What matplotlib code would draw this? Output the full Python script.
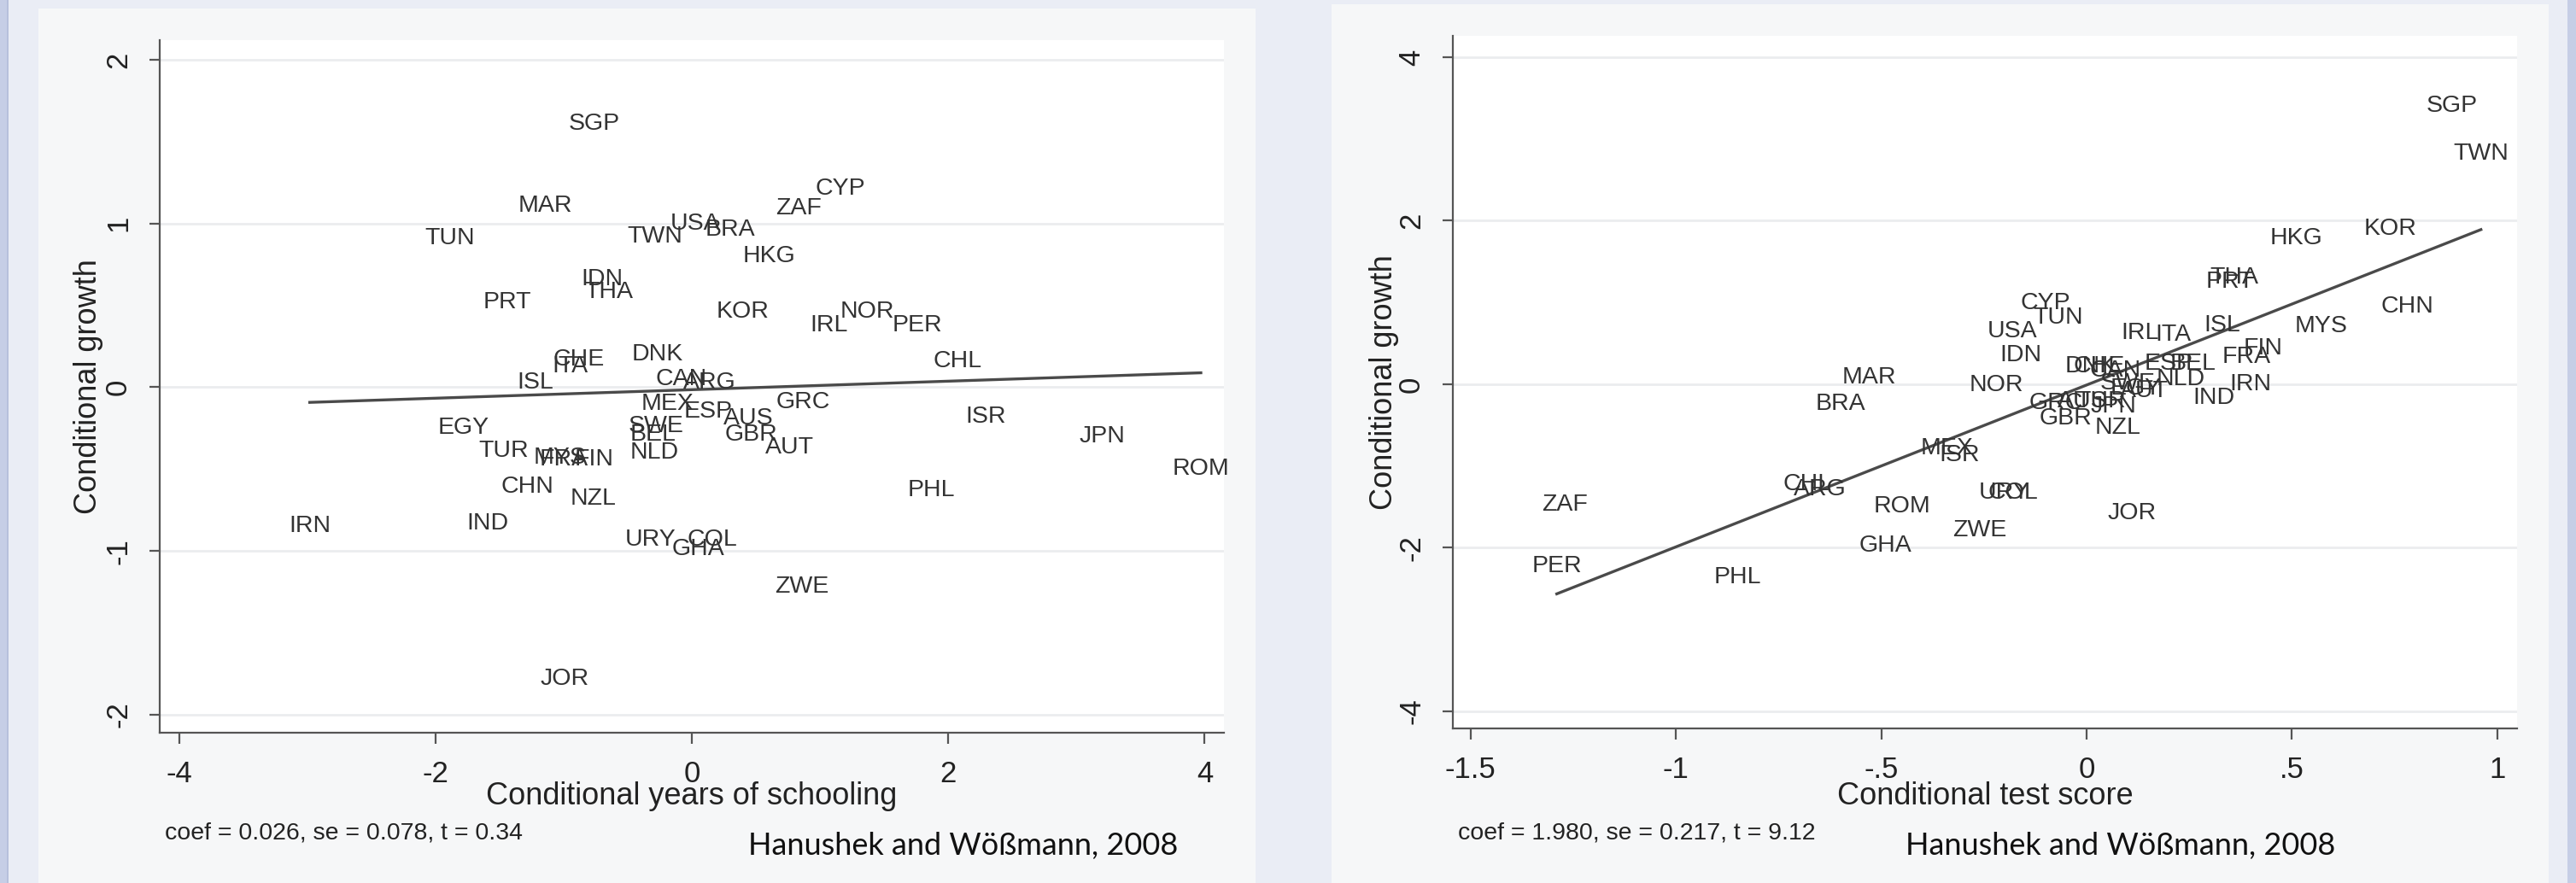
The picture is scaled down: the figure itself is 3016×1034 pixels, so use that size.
import matplotlib
matplotlib.use("Agg")
import matplotlib.pyplot as plt
from matplotlib.patches import Rectangle
import numpy as np

plt.rcParams['font.family'] = ['Liberation Sans', 'DejaVu Sans']

# ---------------- data: left panel (years of schooling) ----------------
left_countries = ["SGP", "MAR", "TUN", "TWN", "USA", "BRA", "ZAF", "CYP", "HKG", "IDN",
                  "THA", "PRT", "KOR", "IRL", "NOR", "PER", "CHL", "DNK", "CHE", "ITA",
                  "ISL", "CAN", "ARG", "MEX", "ESP", "AUS", "GRC", "SWE", "BEL", "NLD",
                  "GBR", "AUT", "ISR", "JPN", "ROM", "EGY", "TUR", "MYS", "FRA", "FIN",
                  "CHN", "NZL", "IND", "IRN", "PHL", "URY", "COL", "GHA", "ZWE", "JOR"]
left_x = [-0.76, -1.14, -1.89, -0.29, 0.03, 0.30, 0.83, 1.16, 0.60, -0.70,
          -0.65, -1.44, 0.40, 1.07, 1.37, 1.76, 2.07, -0.27, -0.88, -0.95,
          -1.22, -0.08, 0.14, -0.19, 0.13, 0.44, 0.87, -0.28, -0.30, -0.29,
          0.46, 0.76, 2.29, 3.20, 3.97, -1.78, -1.47, -1.03, -1.00, -0.76,
          -1.28, -0.77, -1.59, -2.98, 1.87, -0.32, 0.16, 0.05, 0.86, -0.99]
left_y = [1.61, 1.11, 0.91, 0.92, 1.00, 0.96, 1.09, 1.21, 0.80, 0.66,
          0.58, 0.52, 0.46, 0.38, 0.46, 0.38, 0.16, 0.20, 0.17, 0.13,
          0.03, 0.05, 0.03, -0.10, -0.15, -0.19, -0.09, -0.24, -0.29, -0.40,
          -0.29, -0.37, -0.18, -0.30, -0.50, -0.25, -0.39, -0.43, -0.44, -0.44,
          -0.61, -0.68, -0.83, -0.85, -0.63, -0.93, -0.93, -0.99, -1.22, -1.78]
left_fit = [0.026, -0.015]          # slope, intercept
left_xticks = [-4, -2, 0, 2, 4]
left_xticklabels = ["-4", "-2", "0", "2", "4"]
left_yticks = [-2, -1, 0, 1, 2]
left_yticklabels = ["-2", "-1", "0", "1", "2"]
left_note = "coef = 0.026, se = 0.078, t = 0.34"

# ---------------- data: right panel (test score) ----------------
right_countries = ["SGP", "TWN", "HKG", "KOR", "THA", "PRT", "CHN", "MYS", "CYP", "TUN",
                   "USA", "IDN", "IRL", "ITA", "ISL", "FIN", "FRA", "IRN", "IND", "MAR",
                   "BRA", "NOR", "DNK", "CHE", "ESP", "BEL", "NLD", "SWE", "AUT", "EGY",
                   "GRC", "AUS", "TUR", "JPN", "GBR", "NZL", "MEX", "ISR", "CHL", "ARG",
                   "ROM", "GHA", "URY", "COL", "ZWE", "JOR", "ZAF", "PER", "PHL", "CAN"]
right_x = [0.89, 0.96, 0.51, 0.74, 0.36, 0.35, 0.78, 0.57, -0.10, -0.07,
           -0.18, -0.16, 0.13, 0.21, 0.33, 0.43, 0.39, 0.40, 0.31, -0.53,
           -0.60, -0.22, 0.01, 0.03, 0.20, 0.26, 0.23, 0.10, 0.14, 0.12,
           -0.075, -0.01, 0.035, 0.065, -0.05, 0.075, -0.34, -0.31, -0.68, -0.65,
           -0.45, -0.49, -0.20, -0.18, -0.26, 0.11, -1.27, -1.29, -0.85, 0.07]
right_y = [3.40, 2.82, 1.78, 1.90, 1.30, 1.25, 0.95, 0.71, 0.99, 0.81,
           0.65, 0.35, 0.63, 0.60, 0.72, 0.44, 0.33, 0.00, -0.17, 0.08,
           -0.24, -0.01, 0.22, 0.22, 0.25, 0.25, 0.06, 0.01, -0.08, -0.05,
           -0.23, -0.21, -0.21, -0.27, -0.42, -0.53, -0.78, -0.87, -1.22, -1.29,
           -1.49, -1.98, -1.33, -1.33, -1.79, -1.58, -1.47, -2.23, -2.36, 0.17]
right_fit = [1.980, -0.01]
right_xticks = [-1.5, -1.0, -0.5, 0.0, 0.5, 1.0]
right_xticklabels = ["-1.5", "-1", "-.5", "0", ".5", "1"]
right_yticks = [-4, -2, 0, 2, 4]
right_yticklabels = ["-4", "-2", "0", "2", "4"]
right_note = "coef = 1.980, se = 0.217, t = 9.12"

source_text = "Hanushek and Wößmann, 2008"

# ---------------- figure ----------------
W, H = 3016, 1034
fig = plt.figure(figsize=(W / 100, H / 100), dpi=100)
fig.patch.set_facecolor("#eaedf5")


def px_rect(x0, y0, x1, y1, color):
    fig.patches.append(Rectangle((x0 / W, 1 - y1 / H), (x1 - x0) / W, (y1 - y0) / H,
                                 transform=fig.transFigure, facecolor=color,
                                 edgecolor="none", zorder=-5))


px_rect(0, 0, 8, H, "#c6cee6")
px_rect(8, 0, 10, H, "#b6c0dc")
px_rect(3006, 0, 3016, H, "#c6cee6")
px_rect(45, 10, 1470, H, "#f6f7f8")
px_rect(1559, 5, 2984, H, "#f6f7f8")


def make_panel(ax_px, xs, ys, names, fit, xlim, ylim, xticks, xtl, yticks, ytl,
               xlabel, ylabel_x, note, note_x, src_x, xlabel_cx):
    x0, y0, x1, y1 = ax_px
    ax = fig.add_axes([x0 / W, 1 - y1 / H, (x1 - x0) / W, (y1 - y0) / H])
    ax.set_zorder(5)
    ax.set_facecolor("white")
    ax.set_xlim(*xlim)
    ax.set_ylim(*ylim)
    for s in ["top", "right"]:
        ax.spines[s].set_visible(False)
    for s in ["left", "bottom"]:
        ax.spines[s].set_color("#555555")
        ax.spines[s].set_linewidth(1.6)
    ax.set_xticks(xticks)
    ax.set_xticklabels(xtl, fontsize=25, color="#222222")
    ax.set_yticks(yticks)
    ax.set_yticklabels(ytl, fontsize=25, color="#222222", rotation=90, va="center")
    ax.tick_params(axis="both", direction="out", length=9, width=1.6, color="#555555", pad=14)
    ax.yaxis.grid(True, color="#ebedef", linewidth=2.0)
    ax.set_axisbelow(True)
    # fitted line across data range
    xr = np.array([min(xs), max(xs)])
    ax.plot(xr, fit[0] * xr + fit[1], color="#4a4a4a", linewidth=2.4, zorder=2)
    for n, xv, yv in zip(names, xs, ys):
        ax.text(xv, yv, n, fontsize=20.5, color="#333333", ha="center", va="center", zorder=3)
    fig.text(xlabel_cx / W, 1 - 933 / H, xlabel, fontsize=26, color="#222222",
             ha="center", va="center")
    fig.text(ylabel_x / W, 1 - ((y0 + y1) / 2) / H, "Conditional growth", fontsize=26,
             color="#222222", ha="center", va="center", rotation=90)
    fig.text(note_x / W, 1 - 976 / H, note, fontsize=20.5, color="#222222",
             ha="left", va="center")
    fig.text(src_x / W, 1 - 990 / H, source_text, fontsize=26, color="#111111",
             ha="left", va="center", family=["Lato", "DejaVu Sans"])
    return ax


make_panel((187, 47, 1433, 858), left_x, left_y, left_countries, left_fit,
           (-4.15, 4.15), (-2.11, 2.12), left_xticks, left_xticklabels,
           left_yticks, left_yticklabels, "Conditional years of schooling",
           104, left_note, 193, 876, 810)

make_panel((1701, 42, 2947, 853), right_x, right_y, right_countries, right_fit,
           (-1.543, 1.048), (-4.21, 4.26), right_xticks, right_xticklabels,
           right_yticks, right_yticklabels, "Conditional test score",
           1621, right_note, 1707, 2231, 2324)

fig.savefig("out.png", dpi=100, facecolor=fig.get_facecolor())
